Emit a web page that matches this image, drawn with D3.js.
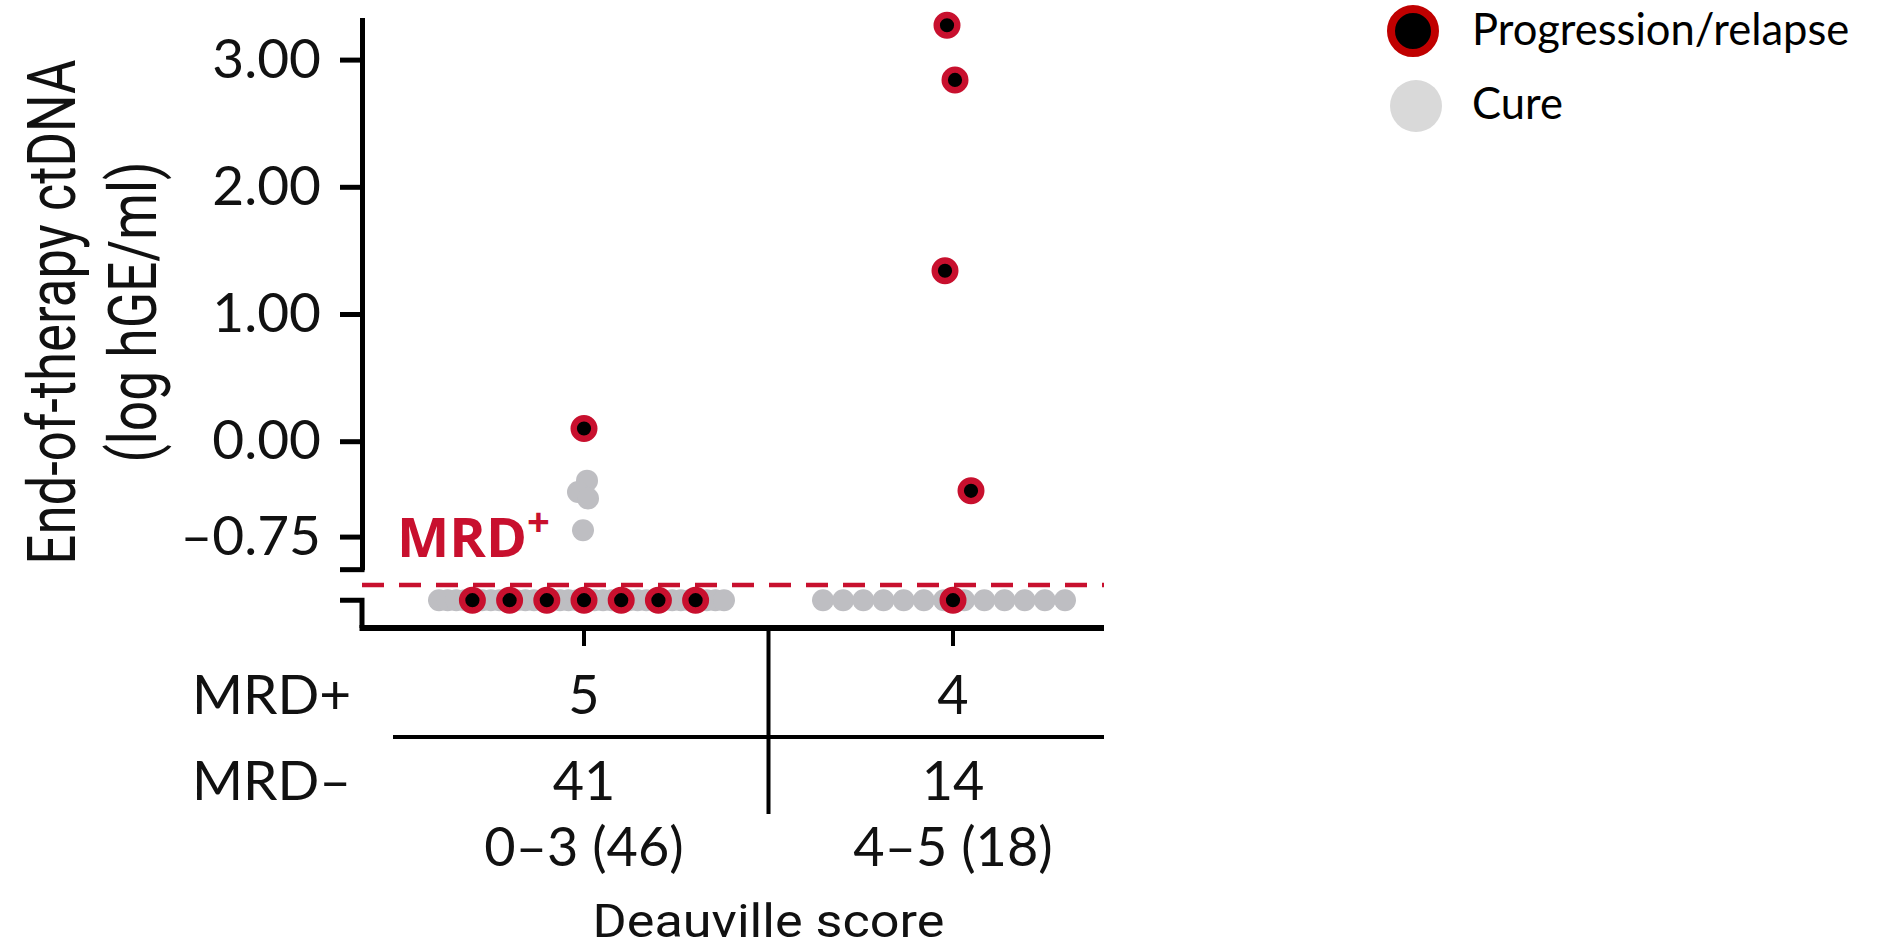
<!DOCTYPE html>
<html>
<head>
<meta charset="utf-8">
<script src="https://cdn.jsdelivr.net/npm/d3@7"></script>
<style>
  html, body { margin: 0; padding: 0; background: #ffffff; }
  svg { display: block; }
</style>
</head>
<body>
<svg id="chart" width="1885" height="951"></svg>
<script>
// ---- Data ----
const groups = ["0–3 (46)", "4–5 (18)"];
const mrdPositive = [5, 4];
const mrdNegative = [41, 14];
const yTickValues = [3, 2, 1, 0, -0.75];
const yTickLabels = ["3.00", "2.00", "1.00", "0.00", "–0.75"];
const mrdThreshold = -1.13;      // MRD+ cut-off (dashed line)
const undetectedLevel = -1.25;   // row for undetectable ctDNA

// Patients with detectable end-of-therapy ctDNA
const detectedGroup   = [0, 0, 0, 0, 0, 1, 1, 1, 1];
const detectedValue   = [0.10, -0.31, -0.40, -0.45, -0.70, 3.27, 2.84, 1.34, -0.39];
const detectedOutcome = ["relapse", "cure", "cure", "cure", "cure", "relapse", "relapse", "relapse", "relapse"];

// Patients with undetectable ctDNA, by outcome
const undetectedRelapse = [7, 1];
const undetectedCure    = [34, 13];

const legendLabels = ["Progression/relapse", "Cure"];

// ---- Layout & style ----
const RED = "#c8102e";
const GRAY = "#bebec2";
const AXIS_X = 362;
const X_AXIS_Y = 628;
const X_RIGHT = 1104;
const TABLE_FONT = "Lato, 'Open Sans', sans-serif";
const jitterPx = [0, 3, -6, 4, -1, -6, 2, -8, 18];       // horizontal spread of detected points
const cureRowSpan = [[-145, 140], [-130, 112]];           // extent of the undetectable cure row
const relapseRowStep = [37.2, 0];

const svg = d3.select("#chart");

const y = d3.scaleLinear().domain([0, 3]).range([441.2, 59.6]);
const x = d3.scalePoint().domain(groups).range([584, 953]);

// text fitted to a target length along its baseline, anchored at (px, py)
function fittedText(parent, str, px, py, angle, len, size, family, anchor, weight, fill) {
  const g = parent.append("g").attr("transform", `translate(${px},${py}) rotate(${angle})`);
  const t = g.append("text")
    .attr("text-anchor", anchor)
    .attr("fill", fill || "#111")
    .style("font-family", family)
    .style("font-weight", weight || 400)
    .style("font-size", size + "px")
    .text(str);
  const natural = t.node().getComputedTextLength();
  t.attr("transform", `scale(${len / natural},1)`);
  return t;
}

// ---- Y axis (upper, detectable range) ----
const yTop = 3.33, yBreak = -1.01;
const yAxisScale = d3.scaleLinear().domain([yBreak, yTop]).range([y(yBreak), y(yTop)]);
const yAxis = d3.axisLeft(yAxisScale)
  .tickValues(yTickValues)
  .tickFormat((d, i) => yTickLabels[i])
  .tickSize(22)
  .tickSizeOuter(0)
  .tickPadding(19);

const gy = svg.append("g").attr("transform", `translate(${AXIS_X},0)`).call(yAxis);
gy.select(".domain").attr("stroke", "#000").attr("stroke-width", 5);
gy.selectAll(".tick line").attr("stroke", "#000").attr("stroke-width", 5);
gy.selectAll(".tick text")
  .attr("fill", "#111")
  .style("font-family", TABLE_FONT)
  .style("font-size", "55px");

// end cap of the upper segment
svg.append("line")
  .attr("x1", AXIS_X - 22).attr("x2", AXIS_X + 2.5)
  .attr("y1", y(yBreak)).attr("y2", y(yBreak))
  .attr("stroke", "#000").attr("stroke-width", 5);

// lower segment for undetectable values
svg.append("path")
  .attr("d", `M${AXIS_X - 22},${y(undetectedLevel)} H${AXIS_X} V${X_AXIS_Y}`)
  .attr("fill", "none").attr("stroke", "#000").attr("stroke-width", 5);

// ---- X axis ----
svg.append("line")
  .attr("x1", AXIS_X - 2.5).attr("x2", X_RIGHT)
  .attr("y1", X_AXIS_Y).attr("y2", X_AXIS_Y)
  .attr("stroke", "#000").attr("stroke-width", 6);

svg.selectAll(".cat-tick").data(groups).enter().append("line")
  .attr("class", "cat-tick")
  .attr("x1", d => x(d)).attr("x2", d => x(d))
  .attr("y1", X_AXIS_Y).attr("y2", 646)
  .attr("stroke", "#000").attr("stroke-width", 4);

// ---- MRD threshold ----
svg.append("line")
  .attr("x1", AXIS_X).attr("x2", X_RIGHT)
  .attr("y1", y(mrdThreshold)).attr("y2", y(mrdThreshold))
  .attr("stroke", RED).attr("stroke-width", 4.5)
  .attr("stroke-dasharray", "22,15");

fittedText(svg, "MRD", 397, 557, 0, 130, 54, "'Open Sans', sans-serif", "start", 700, RED);
svg.append("text")
  .attr("x", 527).attr("y", 536)
  .attr("fill", RED)
  .style("font-family", "'Open Sans', sans-serif")
  .style("font-weight", 700)
  .style("font-size", "40px")
  .text("+");

// ---- Points ----
function drawPoint(cx, cy, outcome) {
  if (outcome === "relapse") {
    svg.append("circle")
      .attr("cx", cx).attr("cy", cy).attr("r", 10.3)
      .attr("fill", "#000").attr("stroke", RED).attr("stroke-width", 6.4);
  } else {
    svg.append("circle")
      .attr("cx", cx).attr("cy", cy).attr("r", 11)
      .attr("fill", GRAY);
  }
}

// undetectable row: cure dots behind, relapse dots on top
groups.forEach((g, gi) => {
  const nC = undetectedCure[gi];
  const [a, b] = cureRowSpan[gi];
  d3.range(nC).forEach(i => {
    const off = nC > 1 ? a + (b - a) * i / (nC - 1) : 0;
    drawPoint(x(g) + off, y(undetectedLevel), "cure");
  });
});
groups.forEach((g, gi) => {
  const nR = undetectedRelapse[gi];
  d3.range(nR).forEach(i => {
    const off = (i - (nR - 1) / 2) * relapseRowStep[gi];
    drawPoint(x(g) + off, y(undetectedLevel), "relapse");
  });
});

// detectable ctDNA
detectedValue.forEach((v, i) => {
  drawPoint(x(groups[detectedGroup[i]]) + jitterPx[i], y(v), detectedOutcome[i]);
});

// ---- Count table ----
const divX = (x(groups[0]) + x(groups[1])) / 2;
svg.append("line")
  .attr("x1", divX).attr("x2", divX)
  .attr("y1", X_AXIS_Y).attr("y2", 814)
  .attr("stroke", "#000").attr("stroke-width", 4);
svg.append("line")
  .attr("x1", 393).attr("x2", X_RIGHT)
  .attr("y1", 737).attr("y2", 737)
  .attr("stroke", "#000").attr("stroke-width", 4);

const rowLabels = ["MRD+", "MRD–"];
const rowBaselines = [714, 800];
const rowValues = [mrdPositive, mrdNegative];

rowLabels.forEach((lab, r) => {
  svg.append("text")
    .attr("x", 192).attr("y", rowBaselines[r])
    .attr("fill", "#111")
    .style("font-family", TABLE_FONT).style("font-size", "55px")
    .text(lab);
  svg.selectAll(null).data(groups).enter().append("text")
    .attr("x", d => x(d)).attr("y", rowBaselines[r])
    .attr("text-anchor", "middle")
    .attr("fill", "#111")
    .style("font-family", TABLE_FONT).style("font-size", "54px")
    .text((d, gi) => rowValues[r][gi]);
});

svg.selectAll(null).data(groups).enter().append("text")
  .attr("x", d => x(d)).attr("y", 866)
  .attr("text-anchor", "middle")
  .attr("fill", "#111")
  .style("font-family", TABLE_FONT).style("font-size", "54px")
  .text(d => d);

fittedText(svg, "Deauville score", divX, 937, 0, 352, 47, "Roboto, sans-serif", "middle");

// ---- Y-axis title ----
fittedText(svg, "End-of-therapy ctDNA", 75, 312, -90, 505, 66, "Roboto, sans-serif", "middle");
fittedText(svg, "(log hGE/ml)", 156, 312, -90, 301, 66, "Roboto, sans-serif", "middle");

// ---- Legend ----
const lg = svg.append("g");
lg.append("circle").attr("cx", 1413).attr("cy", 31).attr("r", 22)
  .attr("fill", "#000").attr("stroke", "#c00000").attr("stroke-width", 8);
lg.append("circle").attr("cx", 1416).attr("cy", 106).attr("r", 26)
  .attr("fill", "#d9d9d9");
const legendBase = [45, 119];
legendLabels.forEach((t, i) => {
  lg.append("text")
    .attr("x", 1472).attr("y", legendBase[i])
    .attr("fill", "#000")
    .style("font-family", "Lato, 'Open Sans', sans-serif").style("font-size", "43.5px")
    .text(t);
});
</script>
</body>
</html>
